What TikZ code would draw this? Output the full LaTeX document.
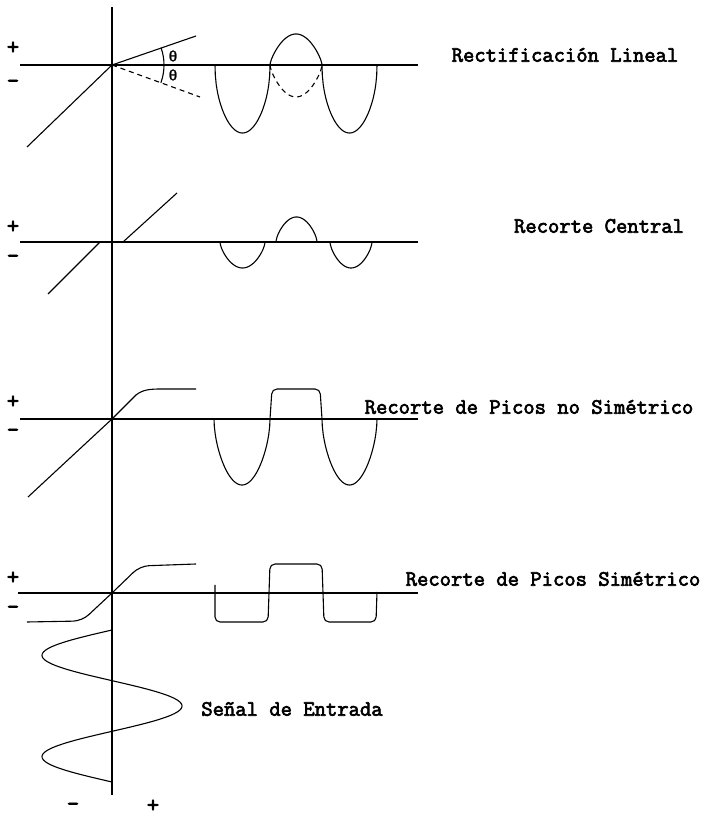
\documentclass[tikz,border=0pt]{standalone}
\usepackage{fontspec}
\newfontfamily\lblfont{Latin Modern Mono}[FakeBold=3]
\newfontfamily\thetafont{Liberation Mono}[FakeBold=1.5]
\usepackage{tikz}
\usetikzlibrary{calc}

\begin{document}
\begin{tikzpicture}[x=1pt, y=1pt, line width=1.1pt,
    every node/.style={font=\lblfont\fontsize{22}{25}\selectfont, inner sep=0pt},
    sign/.style={font=\lblfont\fontsize{24}{26}\selectfont},
    angle/.style={font=\thetafont\fontsize{15}{17}\selectfont},
    dashline/.style={dash pattern=on 5pt off 4pt}]
\useasboundingbox (0,0) rectangle (706,818);
        % Common vertical axis
        \draw (112,23) -- (112,811);
        % Rectificacion lineal
        \begin{scope}[shift={(112,753)}]
            \draw (-92,0) -- (306,0);
            \node[sign] (plusA) at (-99,17) {+};
            \node[sign] (minusA) at (-99,-19) {–};
            \draw (-85,-82) -- (0,0) -- (84,29);
            \draw[dashline] (0,0) -- (88,-32);
            \draw (-20:52) arc[start angle=-20, end angle=19, radius=52];
            \node[angle] (thetaUp) at (61,9) {θ};
            \node[angle] (thetaDown) at (61,-10) {θ};
            \draw (103,0) -- plot[domain=1:179, samples=60] ({103+55*\x/180}, {-68*abs(sin(\x))^0.47}) -- (158,0);
            \draw (158,0) -- plot[domain=1:179, samples=60] ({158+52*\x/180}, {31*abs(sin(\x))^0.7}) -- (210,0);
            \draw[dashline] (158,0) -- plot[domain=1:179, samples=60] ({158+52*\x/180}, {-32*abs(sin(\x))^0.7}) -- (210,0);
            \draw (210,0) -- plot[domain=1:179, samples=60] ({210+55*\x/180}, {-68*abs(sin(\x))^0.47}) -- (265,0);
        \end{scope}
        \node (lblA) at (565,763) {Rectificación Lineal};
        % Recorte central
        \begin{scope}[shift={(112,576)}]
            \draw (-92,0) -- (306,0);
            \node[sign] (plusB) at (-99,15) {+};
            \node[sign] (minusB) at (-99,-17) {–};
            \draw (-64,-52) -- (-12,0);
            \draw (11,0) -- (65,49);
            \draw (108,0) -- plot[domain=1:179, samples=50] ({108+45*\x/180}, {-26*abs(sin(\x))^0.64}) -- (153,0);
            \draw (164,0) -- plot[domain=1:179, samples=50] ({164+41*\x/180}, {25*abs(sin(\x))^0.64}) -- (205,0);
            \draw (218,0) -- plot[domain=1:179, samples=50] ({218+42*\x/180}, {-26*abs(sin(\x))^0.64}) -- (260,0);
        \end{scope}
        \node (lblB) at (599,592) {Recorte Central};
        % Recorte de picos no simetrico
        \begin{scope}[shift={(112,399)}]
            \draw (-92,0) -- (306,0);
            \node[sign] (plusC) at (-99,17) {+};
            \node[sign] (minusC) at (-99,-14) {–};
            \draw (-84,-78) -- (0,0) -- (24,24) .. controls (31,29.5) and (38,30) .. (50,30) -- (84,30);
            \draw (102,0) -- plot[domain=1:179, samples=60] ({102+56*\x/180}, {-66*abs(sin(\x))^0.55}) -- (158,0);
            \draw[rounded corners=5pt] (158,0) -- (160,30) -- (208,30) -- (210,0);
            \draw (210,0) -- plot[domain=1:179, samples=60] ({210+55*\x/180}, {-66*abs(sin(\x))^0.55}) -- (265,0);
        \end{scope}
        \node (lblC) at (529,411) {Recorte de Picos no Simétrico};
        % Recorte de picos simetrico
        \begin{scope}[shift={(112,225)}]
            \draw (-94,0) -- (306,0);
            \node[sign] (plusD) at (-99,15) {+};
            \node[sign] (minusD) at (-99,-17) {–};
            \draw[rounded corners=9pt] (-85,-29) -- (-30,-28) -- (0,0) -- (28,27) -- (84,29);
            \draw[rounded corners=5pt] (103,8) -- (103,-29) -- (156,-29) -- (158,29) -- (210,29)
                -- (212,-29) -- (264,-29) -- (265,1);
        \end{scope}
        \node (lblD) at (553,239) {Recorte de Picos Simétrico};
        % Senal de entrada
        \draw plot[domain=0:540, samples=121] ({112-70*sin(\x)}, {188-0.28148*\x});
        \node (lblE) at (292,109) {Señal de Entrada};
        % Labels
        \node[sign] (minusE) at (73,11) {–};
        \node[sign] (plusE) at (153,12) {+};
    \end{tikzpicture}
\end{document}
